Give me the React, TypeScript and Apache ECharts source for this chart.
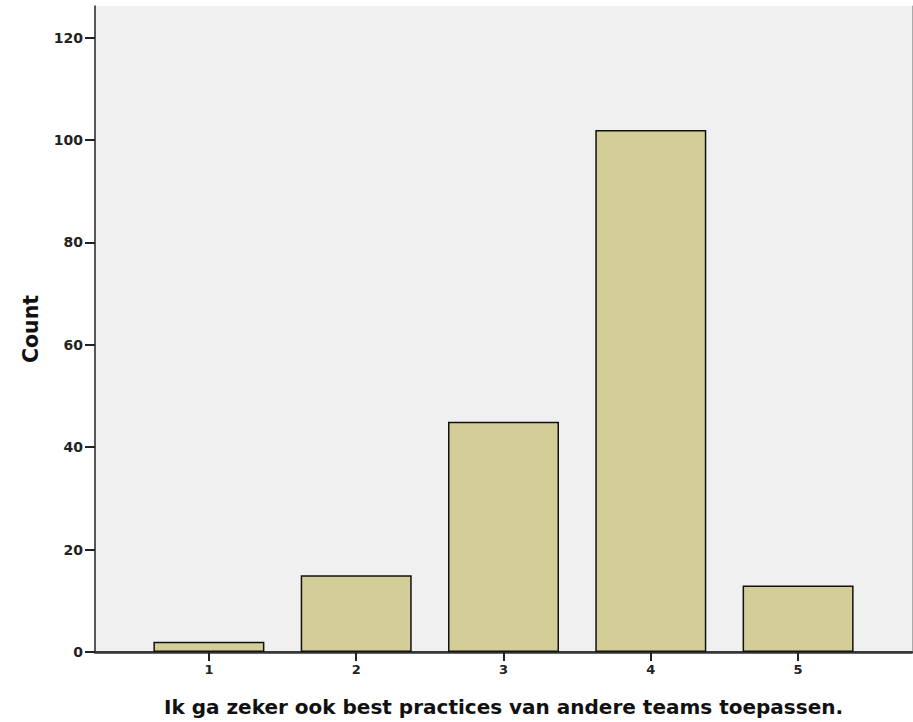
import React, { useEffect, useRef } from "react";
import * as echarts from "echarts";

const categories = [1, 2, 3, 4, 5];
const counts = [2, 15, 45, 102, 13];
const yTicks = [0, 20, 40, 60, 80, 100, 120];
const xTitle = "Ik ga zeker ook best practices van andere teams toepassen.";
const yTitle = "Count";

export default function App() {
  const ref = useRef<HTMLDivElement>(null);
  useEffect(() => {
    if (!ref.current) return;
    const chart = echarts.init(ref.current, null, { renderer: "svg" });
    const font = "'DejaVu Sans', sans-serif";
    chart.setOption({
      animation: false,
      grid: {
        left: 95,
        right: 1,
        top: 6,
        bottom: 68,
        show: true,
        backgroundColor: "#f0f0f0",
        borderWidth: 0,
      },
      xAxis: [
        {
          type: "value",
          min: 0.2267,
          max: 5.7733,
          splitLine: { show: false },
          axisLine: { show: true, lineStyle: { color: "#222", width: 1.5 } },
          axisTick: { show: true, customValues: categories, length: 9, lineStyle: { color: "#222", width: 2 } },
          axisLabel: {
            customValues: categories,
            color: "#222",
            fontFamily: font,
            fontWeight: "bold",
            fontSize: 13,
            margin: 11,
          },
          name: xTitle,
          nameLocation: "middle",
          nameGap: 45,
          nameTextStyle: { color: "#111", fontFamily: font, fontWeight: "bold", fontSize: 20 },
        },
        {
          type: "value",
          position: "top",
          min: 0,
          max: 1,
          splitLine: { show: false },
          axisLine: { show: true, lineStyle: { color: "#333", width: 2.5 } },
          axisTick: { show: false },
          axisLabel: { show: false },
        },
      ],
      yAxis: [
        {
          type: "value",
          min: 0,
          max: 126.2,
          splitLine: { show: false },
          axisLine: { show: true, lineStyle: { color: "#222", width: 1.5 } },
          axisTick: { show: true, customValues: yTicks, length: 10, lineStyle: { color: "#222", width: 2 } },
          axisLabel: {
            customValues: yTicks,
            color: "#222",
            fontFamily: font,
            fontWeight: "bold",
            fontSize: 14,
            margin: 12,
          },
          name: yTitle,
          nameLocation: "middle",
          nameGap: 54,
          nameTextStyle: { color: "#111", fontFamily: font, fontWeight: "bold", fontSize: 20.5 },
        },
        {
          type: "value",
          position: "right",
          min: 0,
          max: 1,
          splitLine: { show: false },
          axisLine: { show: true, lineStyle: { color: "#aaa", width: 1 } },
          axisTick: { show: false },
          axisLabel: { show: false },
        },
      ],
      series: [
        {
          type: "bar",
          xAxisIndex: 0,
          yAxisIndex: 0,
          barWidth: 111,
          data: categories.map((c, i) => [c, counts[i]]),
          itemStyle: { color: "#d3ce97", borderColor: "#111", borderWidth: 1.5 },
        },
      ],
    });
    return () => chart.dispose();
  }, []);
  return (
    <div
      ref={ref}
      style={{ position: "fixed", left: 0, top: 0, width: 913, height: 722, background: "#fff" }}
    />
  );
}
